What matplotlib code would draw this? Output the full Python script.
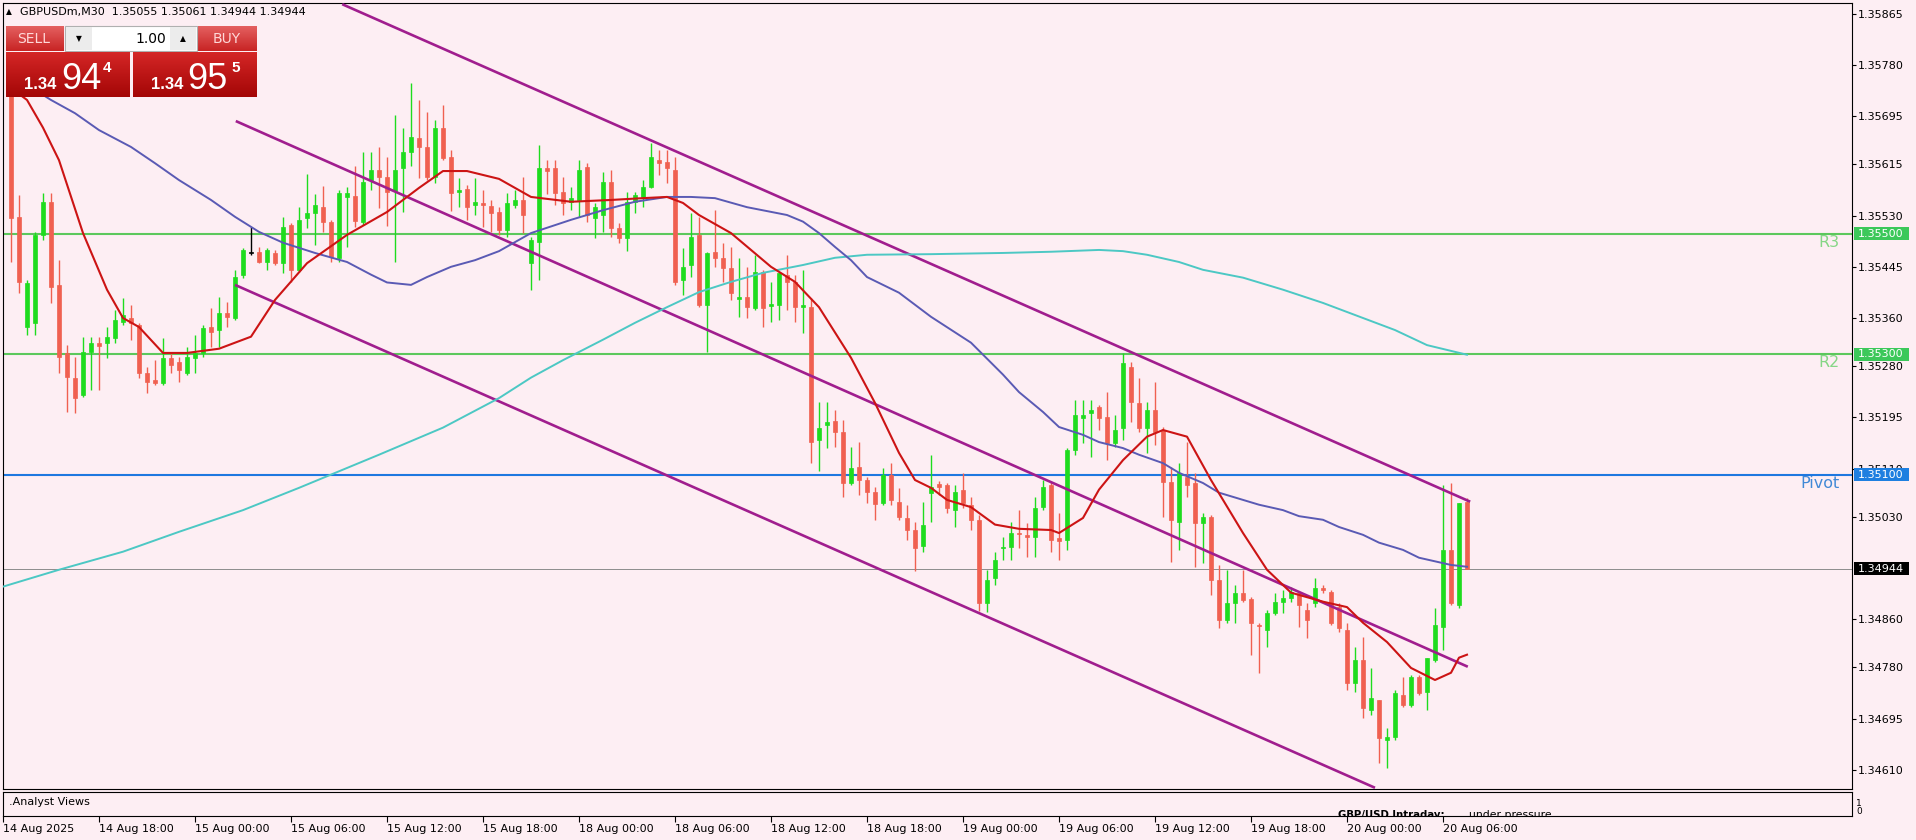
import matplotlib
matplotlib.use("Agg")
import matplotlib.pyplot as plt
import matplotlib.colors as mcolors
import numpy as np
from matplotlib.patches import Rectangle

# GBPUSDm M30 candles, bar 1 = 14 Aug 12:30 ... bar 183 = 20 Aug 07:30
opens = [1.35742, 1.35528, 1.35345, 1.35352, 1.35498, 1.35553, 1.35415, 1.35302, 1.35261, 1.35232,
         1.35304, 1.35319, 1.35319, 1.35327, 1.35353, 1.35360, 1.35348, 1.35269, 1.35257, 1.35252,
         1.35294, 1.35287, 1.35269, 1.35294, 1.35302, 1.35345, 1.35340, 1.35368, 1.35360, 1.35431,
         1.35468, 1.35470, 1.35453, 1.35468, 1.35451, 1.35515, 1.35440, 1.35526, 1.35534, 1.35544,
         1.35519, 1.35460, 1.35561, 1.35563, 1.35519, 1.35589, 1.35606, 1.35594, 1.35571, 1.35609,
         1.35636, 1.35659, 1.35644, 1.35594, 1.35676, 1.35627, 1.35569, 1.35574, 1.35548, 1.35551,
         1.35546, 1.35536, 1.35506, 1.35548, 1.35556, 1.35451, 1.35486, 1.35609, 1.35609, 1.35569,
         1.35553, 1.35556, 1.35611, 1.35526, 1.35531, 1.35586, 1.35509, 1.35493, 1.35553, 1.35561,
         1.35578, 1.35622, 1.35619, 1.35606, 1.35423, 1.35448, 1.35498, 1.35382, 1.35470, 1.35460,
         1.35443, 1.35392, 1.35395, 1.35377, 1.35436, 1.35380, 1.35382, 1.35431, 1.35420, 1.35378,
         1.35378, 1.35158, 1.35182, 1.35189, 1.35171, 1.35086, 1.35113, 1.35091, 1.35071, 1.35053,
         1.35100, 1.35055, 1.35028, 1.35008, 1.34982, 1.35070, 1.35085, 1.35083, 1.35041, 1.35075,
         1.35050, 1.35025, 1.34887, 1.34929, 1.34978, 1.34980, 1.35003, 1.35000, 1.34997, 1.35046,
         1.35083, 1.34995, 1.34992, 1.35141, 1.35194, 1.35202, 1.35212, 1.35196, 1.35153, 1.35178,
         1.35279, 1.35219, 1.35178, 1.35207, 1.35174, 1.35088, 1.35022, 1.35096, 1.35086, 1.35020,
         1.35030, 1.34925, 1.34859, 1.34887, 1.34904, 1.34894, 1.34851, 1.34842, 1.34870, 1.34889,
         1.34895, 1.34904, 1.34875, 1.34887, 1.34912, 1.34905, 1.34880, 1.34842, 1.34754, 1.34792,
         1.34709, 1.34726, 1.34660, 1.34665, 1.34734, 1.34718, 1.34764, 1.34739, 1.34792, 1.34847,
         1.34975, 1.34884, 1.35055]
highs = [1.35763, 1.35564, 1.35423, 1.35503, 1.35568, 1.35568, 1.35456, 1.35315, 1.35295, 1.35329,
         1.35329, 1.35329, 1.35345, 1.35373, 1.35393, 1.35382, 1.35352, 1.35279, 1.35290, 1.35327,
         1.35302, 1.35295, 1.35312, 1.35332, 1.35348, 1.35377, 1.35395, 1.35387, 1.35440, 1.35476,
         1.35511, 1.35478, 1.35476, 1.35473, 1.35528, 1.35518, 1.35544, 1.35599, 1.35566, 1.35579,
         1.35523, 1.35573, 1.35578, 1.35612, 1.35636, 1.35636, 1.35644, 1.35627, 1.35697, 1.35676,
         1.35750, 1.35722, 1.35702, 1.35689, 1.35714, 1.35639, 1.35593, 1.35581, 1.35593, 1.35573,
         1.35556, 1.35544, 1.35568, 1.35573, 1.35594, 1.35495, 1.35647, 1.35622, 1.35622, 1.35594,
         1.35578, 1.35622, 1.35617, 1.35551, 1.35602, 1.35606, 1.35518, 1.35569, 1.35569, 1.35589,
         1.35651, 1.35639, 1.35639, 1.35627, 1.35476, 1.35534, 1.35528, 1.35470, 1.35539, 1.35485,
         1.35478, 1.35460, 1.35445, 1.35465, 1.35440, 1.35420, 1.35436, 1.35465, 1.35431, 1.35440,
         1.35393, 1.35221, 1.35221, 1.35207, 1.35191, 1.35146, 1.35154, 1.35096, 1.35080, 1.35111,
         1.35119, 1.35078, 1.35050, 1.35022, 1.35055, 1.35133, 1.35090, 1.35086, 1.35083, 1.35103,
         1.35063, 1.35033, 1.34942, 1.34972, 1.34997, 1.35022, 1.35041, 1.35020, 1.35063, 1.35091,
         1.35088, 1.35036, 1.35144, 1.35224, 1.35224, 1.35224, 1.35216, 1.35237, 1.35199, 1.35302,
         1.35287, 1.35261, 1.35221, 1.35254, 1.35179, 1.35113, 1.35119, 1.35154, 1.35103, 1.35036,
         1.35033, 1.34950, 1.34942, 1.34917, 1.34942, 1.34897, 1.34854, 1.34875, 1.34904, 1.34909,
         1.34914, 1.34905, 1.34887, 1.34929, 1.34917, 1.34909, 1.34887, 1.34854, 1.34814, 1.34831,
         1.34779, 1.34726, 1.34680, 1.34743, 1.34764, 1.34768, 1.34768, 1.34796, 1.34879, 1.35083,
         1.35086, 1.35053, 1.35061]
lows = [1.35453, 1.35402, 1.35332, 1.35332, 1.35490, 1.35385, 1.35269, 1.35204, 1.35202, 1.35229,
        1.35241, 1.35241, 1.35294, 1.35319, 1.35348, 1.35324, 1.35261, 1.35236, 1.35249, 1.35249,
        1.35269, 1.35254, 1.35266, 1.35269, 1.35295, 1.35312, 1.35312, 1.35345, 1.35357, 1.35426,
        1.35465, 1.35451, 1.35440, 1.35448, 1.35435, 1.35420, 1.35436, 1.35509, 1.35481, 1.35503,
        1.35453, 1.35453, 1.35478, 1.35511, 1.35515, 1.35573, 1.35543, 1.35513, 1.35453, 1.35536,
        1.35612, 1.35593, 1.35589, 1.35584, 1.35622, 1.35538, 1.35544, 1.35523, 1.35531, 1.35511,
        1.35503, 1.35498, 1.35495, 1.35543, 1.35501, 1.35407, 1.35423, 1.35566, 1.35548, 1.35531,
        1.35539, 1.35528, 1.35519, 1.35493, 1.35503, 1.35495, 1.35485, 1.35471, 1.35534, 1.35544,
        1.35576, 1.35598, 1.35584, 1.35415, 1.35398, 1.35428, 1.35378, 1.35304, 1.35445, 1.35420,
        1.35390, 1.35362, 1.35360, 1.35373, 1.35345, 1.35353, 1.35357, 1.35373, 1.35353, 1.35335,
        1.35119, 1.35106, 1.35144, 1.35146, 1.35063, 1.35083, 1.35066, 1.35053, 1.35025, 1.35050,
        1.35050, 1.35025, 1.34992, 1.34940, 1.34972, 1.35022, 1.35066, 1.35036, 1.35013, 1.35045,
        1.35008, 1.34874, 1.34872, 1.34917, 1.34958, 1.34958, 1.34978, 1.34963, 1.34963, 1.35041,
        1.34972, 1.34958, 1.34975, 1.35133, 1.35153, 1.35129, 1.35174, 1.35124, 1.35146, 1.35158,
        1.35187, 1.35171, 1.35136, 1.35149, 1.35030, 1.34955, 1.34975, 1.35063, 1.34947, 1.34953,
        1.34900, 1.34846, 1.34854, 1.34854, 1.34889, 1.34801, 1.34771, 1.34814, 1.34867, 1.34870,
        1.34889, 1.34847, 1.34829, 1.34880, 1.34904, 1.34851, 1.34839, 1.34743, 1.34739, 1.34696,
        1.34701, 1.34621, 1.34613, 1.34660, 1.34714, 1.34714, 1.34734, 1.34709, 1.34789, 1.34809,
        1.34884, 1.34879, 1.34944]
closes = [1.35526, 1.35420, 1.35418, 1.35498, 1.35553, 1.35412, 1.35295, 1.35262, 1.35227, 1.35304,
          1.35319, 1.35314, 1.35329, 1.35357, 1.35365, 1.35352, 1.35269, 1.35254, 1.35252, 1.35294,
          1.35282, 1.35274, 1.35295, 1.35302, 1.35343, 1.35337, 1.35368, 1.35362, 1.35428, 1.35473,
          1.35468, 1.35453, 1.35473, 1.35451, 1.35511, 1.35440, 1.35523, 1.35534, 1.35548, 1.35519,
          1.35461, 1.35568, 1.35568, 1.35521, 1.35586, 1.35606, 1.35594, 1.35569, 1.35606, 1.35636,
          1.35661, 1.35644, 1.35594, 1.35676, 1.35626, 1.35568, 1.35573, 1.35544, 1.35553, 1.35548,
          1.35534, 1.35506, 1.35551, 1.35556, 1.35531, 1.35490, 1.35609, 1.35604, 1.35568, 1.35551,
          1.35559, 1.35606, 1.35531, 1.35544, 1.35586, 1.35509, 1.35493, 1.35553, 1.35564, 1.35578,
          1.35627, 1.35617, 1.35609, 1.35420, 1.35445, 1.35495, 1.35382, 1.35468, 1.35460, 1.35443,
          1.35402, 1.35395, 1.35378, 1.35436, 1.35377, 1.35383, 1.35435, 1.35420, 1.35378, 1.35382,
          1.35154, 1.35178, 1.35187, 1.35171, 1.35086, 1.35111, 1.35091, 1.35071, 1.35051, 1.35100,
          1.35058, 1.35030, 1.35008, 1.34978, 1.35017, 1.35080, 1.35080, 1.35045, 1.35071, 1.35053,
          1.35025, 1.34887, 1.34925, 1.34958, 1.34980, 1.35003, 1.35002, 1.34997, 1.35045, 1.35080,
          1.34992, 1.34990, 1.35141, 1.35199, 1.35199, 1.35207, 1.35194, 1.35153, 1.35174, 1.35285,
          1.35221, 1.35178, 1.35207, 1.35171, 1.35088, 1.35025, 1.35103, 1.35083, 1.35020, 1.35030,
          1.34925, 1.34859, 1.34887, 1.34904, 1.34892, 1.34854, 1.34849, 1.34870, 1.34889, 1.34895,
          1.34905, 1.34884, 1.34859, 1.34912, 1.34909, 1.34854, 1.34846, 1.34754, 1.34792, 1.34713,
          1.34729, 1.34663, 1.34665, 1.34738, 1.34718, 1.34764, 1.34738, 1.34796, 1.34851, 1.34975,
          1.34887, 1.35053, 1.34944]

# moving averages (bar index, price)
ma_fast_idx = [1, 3, 5, 7, 10, 13, 15, 17, 20, 23, 27, 31, 34, 38, 43, 48, 52, 55, 58, 62, 66, 71,
               76, 80, 83, 85, 87, 91, 96, 99, 102, 106, 109, 112, 114, 116, 118, 121, 124, 127,
               131, 132, 135, 137, 140, 143, 145, 148, 151, 155, 158, 161, 165, 168, 170, 173,
               176, 179, 181, 182, 183]
ma_fast = [1.35742, 1.35722, 1.35676, 1.35622, 1.35501, 1.35407, 1.35360, 1.35345, 1.35302, 1.35302,
           1.35309, 1.35329, 1.35390, 1.35451, 1.35498, 1.35536, 1.35576, 1.35604, 1.35604, 1.35591,
           1.35561, 1.35553, 1.35556, 1.35559, 1.35561, 1.35551, 1.35531, 1.35501, 1.35445, 1.35420,
           1.35378, 1.35294, 1.35219, 1.35136, 1.35091, 1.35078, 1.35058, 1.35046, 1.35017, 1.35010,
           1.35008, 1.35003, 1.35028, 1.35075, 1.35124, 1.35163, 1.35174, 1.35163, 1.35091, 1.35003,
           1.34942, 1.34904, 1.34889, 1.34880, 1.34854, 1.34822, 1.34779, 1.34759, 1.34771, 1.34796,
           1.34801]
ma_mid_idx = [3, 6, 9, 12, 16, 19, 22, 26, 29, 32, 35, 39, 43, 46, 48, 51, 53, 56, 59, 62, 66, 71,
              75, 79, 83, 86, 89, 93, 98, 100, 102, 104, 106, 108, 112, 116, 121, 125, 127, 130,
              132, 135, 137, 140, 142, 145, 147, 150, 152, 155, 157, 160, 162, 165, 167, 170, 172,
              175, 177, 180, 181, 183]
ma_mid = [1.35747, 1.35722, 1.35700, 1.35672, 1.35644, 1.35617, 1.35589, 1.35556, 1.35528, 1.35503,
          1.35485, 1.35468, 1.35453, 1.35432, 1.35419, 1.35415, 1.35428, 1.35445, 1.35456, 1.35471,
          1.35501, 1.35523, 1.35539, 1.35553, 1.35561, 1.35561, 1.35559, 1.35544, 1.35531, 1.35520,
          1.35501, 1.35478, 1.35456, 1.35428, 1.35402, 1.35362, 1.35319, 1.35266, 1.35237, 1.35204,
          1.35179, 1.35166, 1.35154, 1.35144, 1.35133, 1.35119, 1.35103, 1.35086, 1.35070, 1.35058,
          1.35050, 1.35041, 1.35031, 1.35025, 1.35013, 1.35000, 1.34987, 1.34975, 1.34962, 1.34953,
          1.34950, 1.34947]
ma_slow_idx = [0, 7, 15, 22, 30, 37, 41, 47, 55, 62, 66, 70, 75, 79, 83, 87, 91, 95, 100, 104, 108,
               116, 125, 131, 137, 140, 143, 147, 150, 155, 160, 165, 170, 174, 178, 183]
ma_slow = [1.34914, 1.34942, 1.34972, 1.35005, 1.35041, 1.35078, 1.35100, 1.35133, 1.35178, 1.35227,
           1.35261, 1.35290, 1.35324, 1.35352, 1.35378, 1.35403, 1.35420, 1.35435, 1.35448, 1.35460,
           1.35465, 1.35466, 1.35468, 1.35470, 1.35473, 1.35471, 1.35465, 1.35453, 1.35440, 1.35427,
           1.35407, 1.35385, 1.35360, 1.35340, 1.35315, 1.35299]

# regression channel (start bar, start price, end bar, end price)
channel = [(42.4, 1.35881, 183.4, 1.35055),
           (29.1, 1.35687, 183.1, 1.34781),
           (29.0, 1.35415, 171.5, 1.34580)]

levels = [("R3", 1.35500, "#5cc85c", "#86d686"),
          ("R2", 1.35300, "#5cc85c", "#86d686"),
          ("Pivot", 1.35100, "#1e78e0", "#4189d6")]
last_price = 1.34944

price_ticks = [1.35865, 1.35780, 1.35695, 1.35615, 1.35530, 1.35445, 1.35360, 1.35280,
               1.35195, 1.35110, 1.35030, 1.34860, 1.34780, 1.34695, 1.34610]
time_pos = list(range(0, 181, 12))
time_labels = ["14 Aug 2025", "14 Aug 18:00", "15 Aug 00:00", "15 Aug 06:00", "15 Aug 12:00",
               "15 Aug 18:00", "18 Aug 00:00", "18 Aug 06:00", "18 Aug 12:00", "18 Aug 18:00",
               "19 Aug 00:00", "19 Aug 06:00", "19 Aug 12:00", "19 Aug 18:00", "20 Aug 00:00",
               "20 Aug 06:00"]

W, H = 1916, 840
bg = "#fdeef3"
up_c, dn_c = "#1edc1e", "#f06050"

fig = plt.figure(figsize=(W / 100, H / 100), dpi=100)
fig.patch.set_facecolor(bg)


def px_axes(x0, y0, x1, y1):
    return fig.add_axes([x0 / W, 1 - y1 / H, (x1 - x0) / W, (y1 - y0) / H])


ax = px_axes(3, 3, 1852, 789)
sub = px_axes(3, 792, 1852, 816)
xmax = 1849 / 8

ax.set_facecolor(bg)
ax.set_xlim(0, xmax)
ax.set_ylim(1.34578, 1.35883)

# levels and last price
for name, val, lc, tc in levels:
    ax.axhline(val, color=lc, lw=1.5, zorder=2)
    ax.text(229.6, val - 0.00002, name, color=tc, fontsize=11.5, ha="right", va="top", zorder=2)
ax.axhline(last_price, color="#8c8c8c", lw=0.7, zorder=2)

# candles
o = np.array(opens)
hi = np.array(highs)
lo = np.array(lows)
c = np.array(closes)
idx = np.arange(1, len(c) + 1)
cols = np.where(c > o, up_c, np.where(c < o, dn_c, "black"))
ax.vlines(idx, lo, hi, colors=cols, lw=1.0, zorder=3)
body = np.maximum(np.abs(c - o), 0.000012)
ax.bar(idx, body, bottom=np.minimum(o, c), width=0.62, color=cols, edgecolor=cols, lw=0.5, zorder=3)

# channel
for x0, y0, x1, y1 in channel:
    ax.plot([x0, x1], [y0, y1], color="#a01e8e", lw=1.9, zorder=4, solid_capstyle="butt")

# moving averages
ax.plot(ma_slow_idx, ma_slow, color="#4cc8c4", lw=1.4, zorder=5)
ax.plot(ma_mid_idx, ma_mid, color="#5a5ab4", lw=1.4, zorder=5)
ax.plot(ma_fast_idx, ma_fast, color="#cc1414", lw=1.5, zorder=6)

ax.set_xticks([])
ax.yaxis.tick_right()
ax.set_yticks(price_ticks)
ax.set_yticklabels([f"{p:.5f}" for p in price_ticks])
ax.tick_params(axis="y", length=3, width=0.8, pad=1.5, labelsize=8, colors="black")
for s in ax.spines.values():
    s.set_linewidth(0.8)
    s.set_color("black")

# indicator sub window
sub.set_facecolor(bg)
sub.set_xlim(0, xmax)
sub.set_ylim(0, 1)
sub.set_yticks([])
sub.set_xticks(time_pos)
sub.set_xticklabels(time_labels, fontsize=8, ha="left")
sub.tick_params(axis="x", length=4, width=0.8, pad=2)
for s in sub.spines.values():
    s.set_linewidth(0.8)
    s.set_color("black")
sub.text(0.7, 0.6, ".Analyst Views", fontsize=8, va="center")
sub.text(166.9, -0.09, "GBP/USD Intraday:", fontsize=7.3, fontweight="bold", va="baseline", clip_on=True)
sub.text(183.2, -0.09, "under pressure.", fontsize=7.8, va="baseline", clip_on=True)

# overlay in pixel coordinates for the trade panel and price tags
over = fig.add_axes([0, 0, 1, 1])
over.set_zorder(10)
over.patch.set_alpha(0)


def grad_box(x0, y0, w, h, top, bot, z=11):
    t = np.array(mcolors.to_rgb(top))
    b = np.array(mcolors.to_rgb(bot))
    g = np.linspace(0, 1, 40)[:, None, None]
    img = t * (1 - g) + b * g
    over.imshow(img, extent=(x0, x0 + w, y0 + h, y0), aspect="auto", zorder=z, interpolation="bilinear")


over.text(6, 12, "\u25b2", fontsize=5.5, va="center", zorder=12)
over.text(20, 12, "GBPUSDm,M30  1.35055 1.35061 1.34944 1.34944", fontsize=8, va="center", zorder=12)

grad_box(6, 26, 58, 25, "#e46060", "#c82424")
grad_box(197, 26, 60, 25, "#e46060", "#c82424")
over.add_patch(Rectangle((65, 26), 132, 25, facecolor="white", edgecolor="#b0b0b0", lw=0.8, zorder=11))
over.add_patch(Rectangle((66, 27), 26, 23, facecolor="#ececec", edgecolor="none", zorder=12))
over.add_patch(Rectangle((170, 27), 26, 23, facecolor="#ececec", edgecolor="none", zorder=12))
over.text(79, 39, "\u25bc", fontsize=5.5, ha="center", va="center", zorder=13)
over.text(183, 39, "\u25b2", fontsize=5.5, ha="center", va="center", zorder=13)
over.text(166, 39, "1.00", fontsize=10, ha="right", va="center", zorder=13)
over.text(34, 39, "SELL", fontsize=10, color="#ffd8d8", ha="center", va="center", zorder=13)
over.text(227, 39, "BUY", fontsize=10, color="#ffd8d8", ha="center", va="center", zorder=13)

grad_box(6, 52, 124, 45, "#d42626", "#a40606")
grad_box(133, 52, 124, 45, "#d42626", "#a40606")
pf = "Liberation Sans"
for x_small, x_big, x_sup, big, sup in [(24, 61, 103, "94", "4"), (151, 187, 231, "95", "5")]:
    over.text(x_small, 89, "1.34", fontsize=12, fontweight="bold", color="white", family=pf,
              va="baseline", zorder=13)
    over.text(x_big, 89, big, fontsize=26, color="white", family=pf, va="baseline", zorder=13)
    over.text(x_sup, 61, sup, fontsize=11, fontweight="bold", color="white", family=pf,
              va="top", zorder=13)

# price tags on the right scale
tags = [(1.35500, "#3cc85a"), (1.35300, "#3cc85a"), (1.35100, "#1e7fe0"), (last_price, "black")]
for val, col in tags:
    ypx = 3 + (1.35883 - val) / (1.35883 - 1.34578) * 786
    over.add_patch(Rectangle((1854, ypx - 6.5), 55, 13, facecolor=col, edgecolor="none", zorder=11))
    over.text(1858, ypx, f"{val:.5f}", fontsize=8, color="white", va="center", zorder=12)

over.text(1856, 803, "1", fontsize=6.5, va="center")
over.text(1856, 811, "0", fontsize=6.5, va="center")

over.set_xlim(0, W)
over.set_ylim(H, 0)
over.axis("off")

fig.savefig("out.png", dpi=100, facecolor=bg)
